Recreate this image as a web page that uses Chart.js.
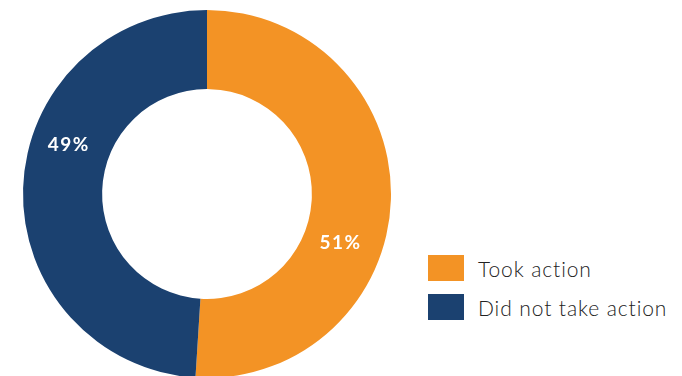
<!DOCTYPE html>
<html>
<head>
<meta charset="utf-8">
<script src="https://cdn.jsdelivr.net/npm/chart.js@4"></script>
<style>
  html, body { margin: 0; padding: 0; width: 682px; height: 376px; overflow: hidden; background: #fff; }
  #wrap { position: absolute; left: 0; top: 0; width: 414px; height: 388px; }
  #legend { position: absolute; left: 428px; top: 255px; font-family: Lato, sans-serif; font-weight: 300; font-size: 21px; letter-spacing: 0.9px; color: #222; }
  .item { display: flex; align-items: center; height: 26px; margin-bottom: 13px; }
  .box { width: 36px; height: 26px; margin-right: 14px; }
</style>
</head>
<body>
<div id="wrap"><canvas id="donut" width="414" height="388"></canvas></div>
<div id="legend"></div>
<script>
/* Took action vs did not take action */
const labels = ['Took action', 'Did not take action'];
const values = [51, 49];
const colors = ['#F39325', '#1B4170'];

// legend on the right, built from the same arrays
function renderLegend() {
  const box = document.getElementById('legend');
  box.innerHTML = labels.map((l, i) =>
    `<div class="item"><div class="box" style="background:${colors[i]}"></div><span>${l}</span></div>`
  ).join('');
}

// percent labels placed 60% of the way along each arc
const pctLabels = {
  id: 'pctLabels',
  afterDatasetsDraw(chart) {
    const ctx = chart.ctx;
    const meta = chart.getDatasetMeta(0);
    ctx.save();
    ctx.fillStyle = '#fff';
    ctx.font = 'bold 19px Lato, sans-serif';
    ctx.letterSpacing = '1.5px';
    ctx.textAlign = 'center';
    ctx.textBaseline = 'middle';
    meta.data.forEach((arc, i) => {
      const p = arc.getProps(['x', 'y', 'startAngle', 'endAngle', 'innerRadius', 'outerRadius'], true);
      const a = p.startAngle + (p.endAngle - p.startAngle) * 0.6;
      const r = (p.innerRadius + p.outerRadius) / 2;
      ctx.fillText(values[i] + '%', p.x + Math.cos(a) * r - 2, p.y + Math.sin(a) * r - 1);
    });
    ctx.restore();
  }
};

new Chart(document.getElementById('donut').getContext('2d'), {
  type: 'doughnut',
  data: {
    labels,
    datasets: [{ data: values, backgroundColor: colors, borderWidth: 0 }]
  },
  options: {
    responsive: false,
    animation: false,
    devicePixelRatio: 1,
    cutout: '57%',
    layout: { padding: 10 },
    plugins: {
      legend: { display: false },
      tooltip: { enabled: false }
    }
  },
  plugins: [pctLabels]
});

renderLegend();
</script>
</body>
</html>
